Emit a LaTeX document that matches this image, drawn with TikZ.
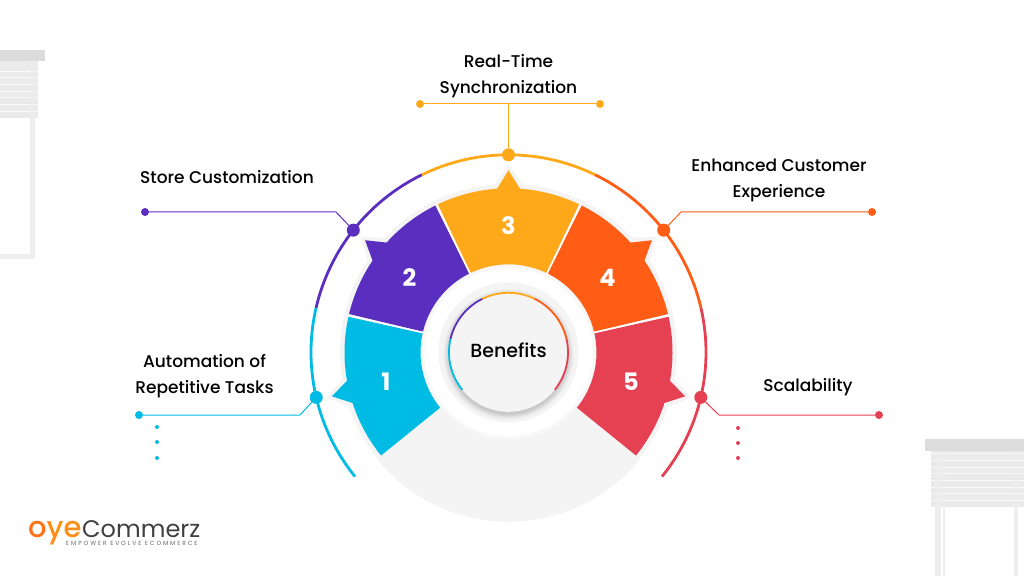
\documentclass[tikz,border=0pt]{standalone}
\usepackage{fontspec}
\setmainfont{Poppins}
\newfontfamily\medfont{Poppins Medium}
\newfontfamily\tagfont[LetterSpace=32]{Poppins}
\definecolor{ccyan}{HTML}{00BCE4}
\definecolor{cpurple}{HTML}{5A2EBE}
\definecolor{corange}{HTML}{FFA91A}
\definecolor{cflame}{HTML}{FF5C15}
\definecolor{cred}{HTML}{E54153}
\definecolor{halo}{HTML}{F4F4F4}
\definecolor{halofaint}{HTML}{F8F8F8}
\definecolor{blindbar}{HTML}{DCDCDC}
\definecolor{blindbody}{HTML}{EAEAEA}
\definecolor{blindframe}{HTML}{EEEEEE}
\tikzset{
  dotbig/.style={circle,inner sep=0pt,minimum size=13pt},
  dotend/.style={circle,inner sep=0pt,minimum size=8pt},
  leader/.style={line width=1pt},
  label/.style={font=\medfont\fontsize{17}{26}\selectfont,align=center,text=black},
  numlabel/.style={font=\bfseries\fontsize{24}{24}\selectfont,text=white},
}
\begin{document}
\begin{tikzpicture}[x=1pt,y=1pt]
\useasboundingbox (0,0) rectangle (1024,576);
\fill[blindframe] (30,317) rectangle (35,458);
\fill[blindframe] (0,317) rectangle (35,322);
\fill[blindbody] (0,458) rectangle (38,515);
\foreach \y in {504,498,491,484,478,471,464}
  \fill[white,opacity=0.8] (0,\y) rectangle (38,\y+1);
\fill[blindframe,opacity=0.6] (30,458) rectangle (35,515);
\fill[blindbar] (0,515) rectangle (45,526);
\fill[blindframe] (935,0) rectangle (940.7,125);
\fill[blindframe] (942.7,0) rectangle (944.7,125);
\fill[blindframe] (1014,0) rectangle (1018,125);
\fill[blindbody] (931,69) rectangle (1024,125);
\foreach \y in {122.5,115.5,108.5,102,95.5,88.5,82,75.5}
  \fill[white,opacity=0.8] (931,\y) rectangle (1024,\y+1);
\fill[blindframe,opacity=0.6] (935,69) rectangle (940.7,125);
\fill[blindframe,opacity=0.6] (942.7,69) rectangle (944.7,125);
\fill[blindframe,opacity=0.6] (1014,69) rectangle (1018,125);
\fill[blindbar] (925,125) rectangle (1024,137);
\begin{scope}[shift={(508.5,223.7)}]
\fill[halo] (219:169.5) arc[start angle=219,end angle=321,radius=169.5] -- (0,0) -- cycle;
\foreach \a/\b/\t/\c in {167/219/194/ccyan,116/167/142/cpurple,64/116/90/corange,13/64/38/cflame,-39/13/-14/cred}
  \draw[halo,line width=9pt,line join=miter,fill=halo] (\a:87)--(\a:164) arc[start angle=\a,end angle=\t-4,radius=164]--(\t:180)--({\t+4}:164) arc[start angle=\t+4,end angle=\b,radius=164]--(\b:87)--cycle;
\foreach \a/\b/\t/\c in {167.5/219/194/ccyan,116.5/166.5/142/cpurple,64.5/115.5/90/corange,13.5/63.5/38/cflame,-39/12.5/-14/cred}
  \fill[\c] (\a:88)--(\a:164) arc[start angle=\a,end angle=\t-4,radius=164]--(\t:182)--({\t+4}:164) arc[start angle=\t+4,end angle=\b,radius=164]--(\b:88) arc[start angle=\b,end angle=\a,radius=88]--cycle;
\foreach \a in {167,116,64,13}
  \draw[white,line width=1.6pt] (\a:86)--(\a:165);
\fill[halofaint] (0,0) circle[radius=87];
\fill[white] (0,0) circle[radius=84];
\fill[halo] (0,0) circle[radius=70];
\foreach \r/\o in {65/0.03,63.5/0.04,62/0.05,60.5/0.06}
  \fill[black,opacity=\o] (0,-2) circle[radius=\r];
\fill[halo] (0,0) circle[radius=59.5];
\foreach \a/\b/\c in {167/219/ccyan,116/167/cpurple,64/116/corange,13/64/cflame,-39/13/cred}{
  \draw[\c,line width=2.8pt] (\a:197.5) arc[start angle=\a,end angle=\b,radius=197.5];
  \draw[\c,line width=1.8pt] (\a:59.5) arc[start angle=\a,end angle=\b,radius=59.5];
}
\node[numlabel] (numone) at (193.5:126) {1};
\node[numlabel] (numtwo) at (143:124) {2};
\node[numlabel] (numthree) at (90:127) {3};
\node[numlabel] (numfour) at (37:124) {4};
\node[numlabel] (numfive) at (-13.5:126) {5};
\node[font=\medfont\fontsize{19}{19}\selectfont] (centre) at (0,2) {Benefits};
\node[dotbig,fill=ccyan] (dotone) at (193.2:197.5) {};
\node[dotbig,fill=cpurple] (dottwo) at (141.8:197.5) {};
\node[dotbig,fill=corange] (dotthree) at (90:197.5) {};
\node[dotbig,fill=cflame] (dotfour) at (38.2:197.5) {};
\node[dotbig,fill=cred] (dotfive) at (-13.2:197.5) {};
\end{scope}
\node[dotend,fill=corange] (endthreel) at (420,472) {};
\node[dotend,fill=corange] (endthreer) at (600,472) {};
\coordinate (jointhree) at (508.5,472);
\node[dotend,fill=cpurple] (endtwo) at (145,364) {};
\coordinate (jointwo) at (336,364);
\node[dotend,fill=cflame] (endfour) at (872,364) {};
\coordinate (joinfour) at (681,364);
\node[dotend,fill=ccyan] (endone) at (139,161) {};
\coordinate (joinone) at (300,161);
\node[dotend,fill=cred] (endfive) at (879,161) {};
\coordinate (joinfive) at (719,161);
\draw[leader,corange] (endthreel)--(endthreer);
\draw[leader,corange] (dotthree)--(jointhree);
\draw[leader,cpurple] (dottwo)--(jointwo)--(endtwo);
\draw[leader,cflame] (dotfour)--(joinfour)--(endfour);
\draw[leader,ccyan] (dotone)--(joinone)--(endone);
\draw[leader,cred] (dotfive)--(joinfive)--(endfive);
\foreach \y in {149,134,118}
  \fill[ccyan] (157,\y) circle[radius=2];
\foreach \y in {148,133,118}
  \fill[cred] (738,\y) circle[radius=2];
\node[label] (texttwo) at (227,399) {Store Customization};
\node[label] (textthree) at (508.5,499.5) {Real-Time\\Synchronization};
\node[label] (textfour) at (779,395.5) {Enhanced Customer\\Experience};
\node[label] (textone) at (204.5,200) {Automation of\\Repetitive Tasks};
\node[label] (textfive) at (808,189) {Scalability};
\node[font=\medfont\fontsize{29}{29}\selectfont,anchor=base west,inner sep=0pt] (logoa) at (28,39) {\smash{\textcolor{cflame!70!corange}{o}\textcolor{cflame!35!corange}{ye}}};
\node[font=\fontsize{24}{24}\selectfont,text=black!75,anchor=base west,inner sep=0pt] (logob) at (82,39) {Commerz};
\node[font=\tagfont\fontsize{6}{6}\selectfont,text=black!60,anchor=base west,inner sep=0pt] (logoc) at (66,30.5) {EMPOWER EVOLVE ECOMMERCE};
\end{tikzpicture}
\end{document}
